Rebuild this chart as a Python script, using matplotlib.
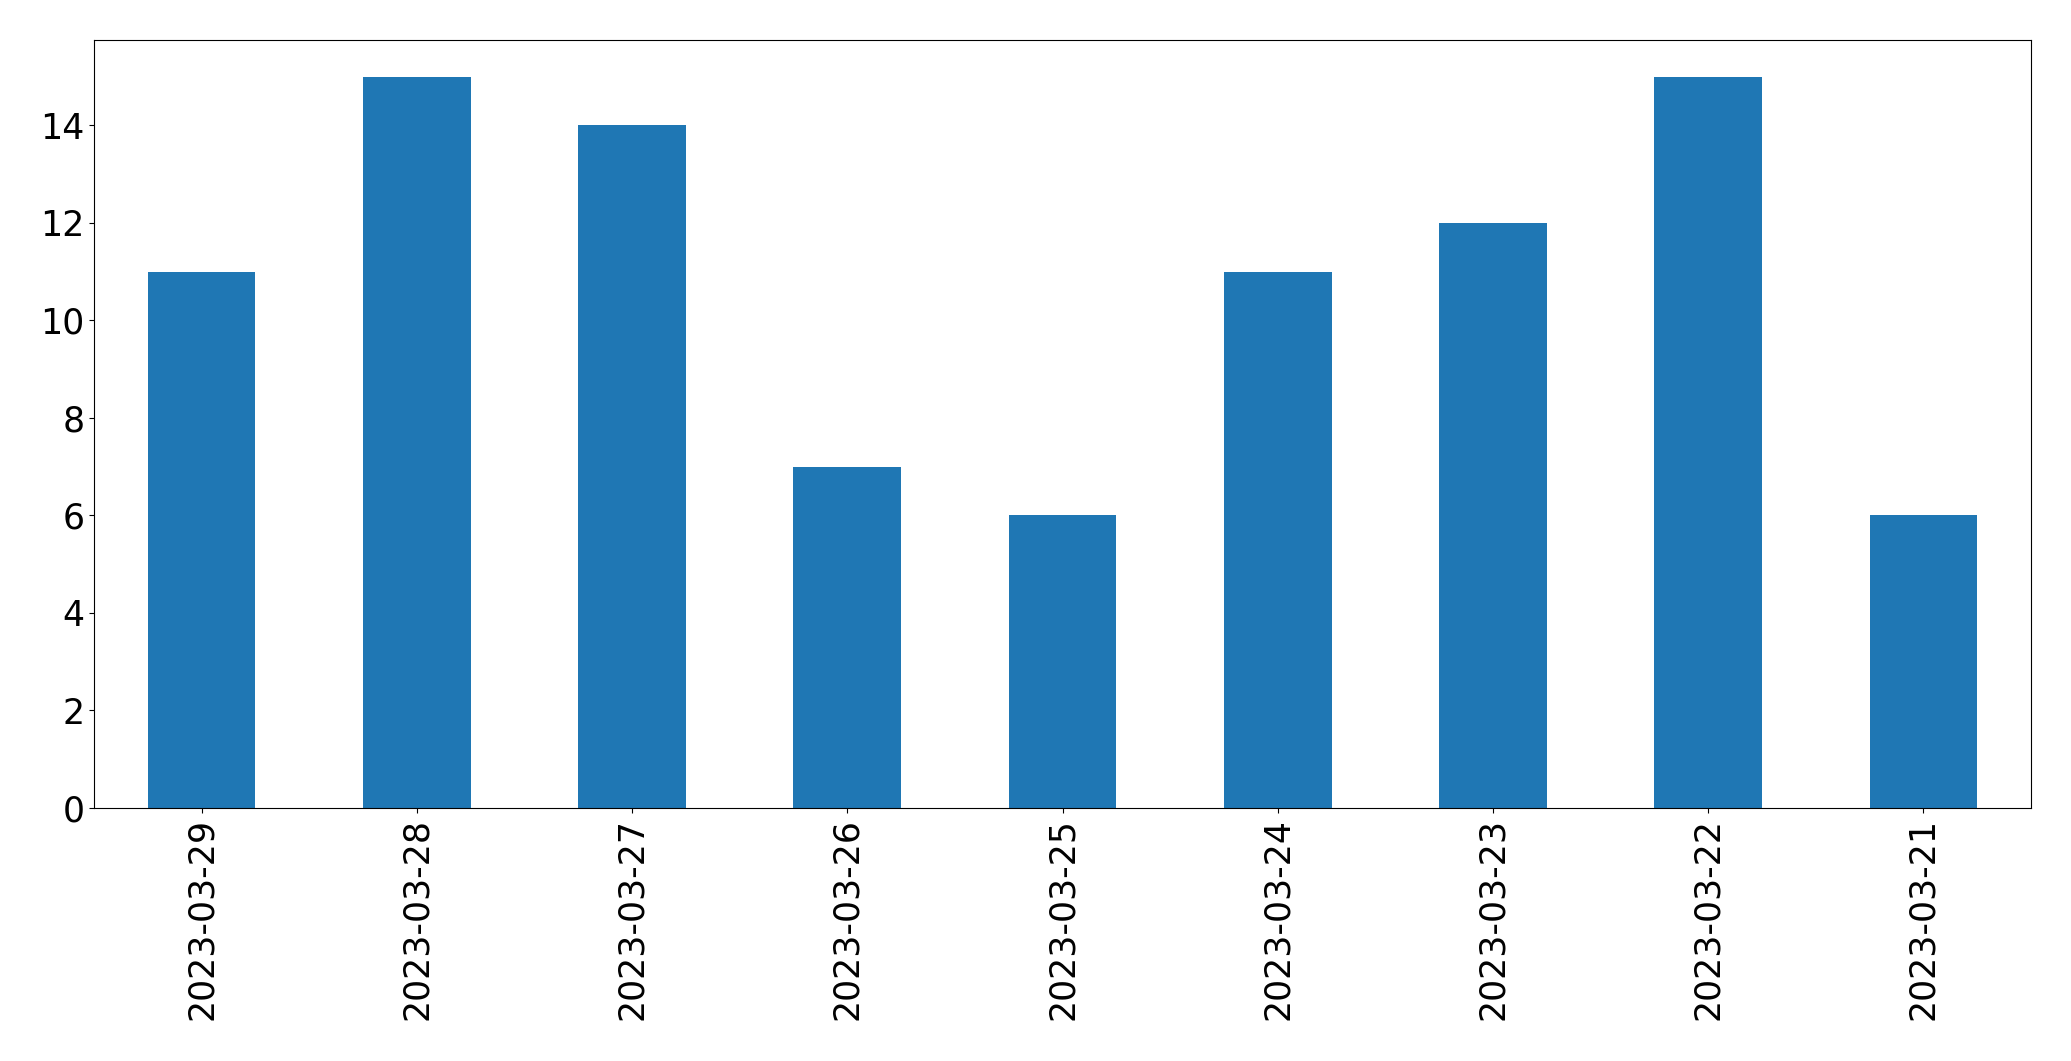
import matplotlib
import matplotlib.pyplot as plt
import pandas as pd

plt.switch_backend('Agg')

dates = ["2023-03-29", "2023-03-28", "2023-03-27", "2023-03-26", "2023-03-25",
         "2023-03-24", "2023-03-23", "2023-03-22", "2023-03-21"]
counts = [11, 15, 14, 7, 6, 11, 12, 15, 6]

s = pd.Series(counts, index=dates)

fig = plt.figure(figsize=(20.71, 10.61), dpi=100)
ax = fig.add_axes([94/2071, 1 - 808/1061, (2031 - 94)/2071, (808 - 40)/1061])
s.plot(kind="bar", ax=ax, color="#1f77b4")
ax.tick_params(axis="both", labelsize=25)
plt.savefig("out.png", dpi=100)
